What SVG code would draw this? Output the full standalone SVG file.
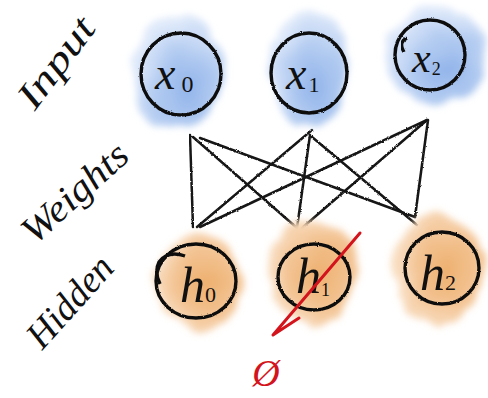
<svg xmlns="http://www.w3.org/2000/svg" width="488" height="398" viewBox="0 0 488 398">
<defs>
<filter id="wc" x="-30%" y="-30%" width="160%" height="160%">
<feTurbulence type="fractalNoise" baseFrequency="0.03" numOctaves="3" seed="4" result="n"/>
<feDisplacementMap in="SourceGraphic" in2="n" scale="16" xChannelSelector="R" yChannelSelector="G" result="d"/>
<feGaussianBlur in="d" stdDeviation="3.5"/>
</filter>
<filter id="rough" x="-10%" y="-10%" width="120%" height="120%">
<feTurbulence type="fractalNoise" baseFrequency="0.8" numOctaves="2" seed="2" result="n"/>
<feDisplacementMap in="SourceGraphic" in2="n" scale="2.2" xChannelSelector="R" yChannelSelector="G"/>
</filter>
<radialGradient id="blue" cx="0.6" cy="0.65" r="0.62">
<stop offset="0" stop-color="#92b4ea"/>
<stop offset="0.55" stop-color="#b2cbf1"/>
<stop offset="1" stop-color="#e0eafa"/>
</radialGradient>
<radialGradient id="orange" cx="0.6" cy="0.5" r="0.62">
<stop offset="0" stop-color="#eeaf6e"/>
<stop offset="0.55" stop-color="#f3c494"/>
<stop offset="1" stop-color="#fae4cd"/>
</radialGradient>
</defs>
<style>
.blobB{fill:url(#blue);filter:url(#wc)}
.blobO{fill:url(#orange);filter:url(#wc)}
.ring{fill:none;stroke:#111;stroke-width:3.4;filter:url(#rough)}
.edge{fill:none;stroke:#151515;stroke-width:2.5;stroke-linecap:round;filter:url(#rough)}
.lab{font-family:"Liberation Serif",serif;font-style:italic;fill:#111}
.side{font-family:"Liberation Serif",serif;font-style:italic;fill:#111;font-size:38px;text-anchor:middle}
.red{fill:none;stroke:#d4141c;stroke-width:3;stroke-linecap:round;stroke-linejoin:round}
</style>
<rect width="488" height="398" fill="#fff"/>

<g id="label-input"><text class="side" transform="translate(66,70) rotate(-53)" textLength="104" lengthAdjust="spacingAndGlyphs">Input</text></g>
<g id="label-weights"><text class="side" transform="translate(83,202) rotate(-42)" textLength="130" lengthAdjust="spacingAndGlyphs">Weights</text></g>
<g id="label-hidden"><text class="side" transform="translate(79,310) rotate(-48)" textLength="110" lengthAdjust="spacingAndGlyphs">Hidden</text></g>

<g id="connectors">
<path class="edge" d="M190,135 L193,227"/>
<path class="edge" d="M193,137 L297,228"/>
<path class="edge" d="M200,138 L415,217"/>
<path class="edge" d="M312,130 L197,227"/>
<path class="edge" d="M310,135 L297,228"/>
<path class="edge" d="M312,137 L417,225"/>
<path class="edge" d="M427,120 L200,227"/>
<path class="edge" d="M427,120 L302,228"/>
<path class="edge" d="M428,120 L415,217"/>
</g>

<g id="node-x0">
<ellipse class="blobB" cx="178" cy="72" rx="46" ry="56"/>
<ellipse class="ring" cx="181" cy="74" rx="40" ry="41"/>
<text class="lab" x="155" y="89" font-size="46">x<tspan font-size="24" dx="6" dy="3" font-style="normal">0</tspan></text>
</g>
<g id="node-x1">
<ellipse class="blobB" cx="308" cy="68" rx="40" ry="58"/>
<ellipse class="ring" cx="309" cy="73" rx="38" ry="40"/>
<text class="lab" x="286" y="89" font-size="46">x<tspan font-size="22" dx="2" dy="3" font-style="normal">1</tspan></text>
</g>
<g id="node-x2">
<ellipse class="blobB" cx="437" cy="55" rx="50" ry="50"/>
<ellipse class="ring" cx="430" cy="55" rx="35" ry="35"/>
<path class="ring" d="M404,52 Q398,42 407,38"/>
<text class="lab" x="412" y="72" font-size="42">x<tspan font-size="18" dx="1" dy="3" font-style="normal">2</tspan></text>
</g>

<g id="node-h0">
<ellipse class="blobO" cx="198" cy="283" rx="43" ry="50"/>
<ellipse class="ring" cx="196" cy="281" rx="40" ry="37"/>
<path class="ring" d="M185,256 Q168,250 159,262 Q154,272 160,284"/>
<text class="lab" x="180" y="302" font-size="50">h<tspan font-size="22" dx="0" dy="0" font-style="normal">0</tspan></text>
</g>
<g id="node-h1">
<ellipse class="blobO" cx="312" cy="273" rx="44" ry="55"/>
<ellipse class="ring" cx="314" cy="277" rx="36" ry="33"/>
<text class="lab" x="296" y="293" font-size="50">h<tspan font-size="18" dx="0" dy="3" font-style="normal">1</tspan></text>
</g>
<g id="node-h2">
<ellipse class="blobO" cx="438" cy="270" rx="44" ry="56"/>
<ellipse class="ring" cx="442" cy="268" rx="37" ry="36"/>
<text class="lab" x="420" y="290" font-size="50">h<tspan font-size="22" dx="0" dy="0" font-style="normal">2</tspan></text>
</g>

<g id="dropout-mark">
<path class="red" d="M360,233 L273,335 L299,318"/>
<text x="266" y="386" font-family="Liberation Serif,serif" font-style="italic" font-size="38" fill="#d4141c" text-anchor="middle">Ø</text>
</g>
</svg>
